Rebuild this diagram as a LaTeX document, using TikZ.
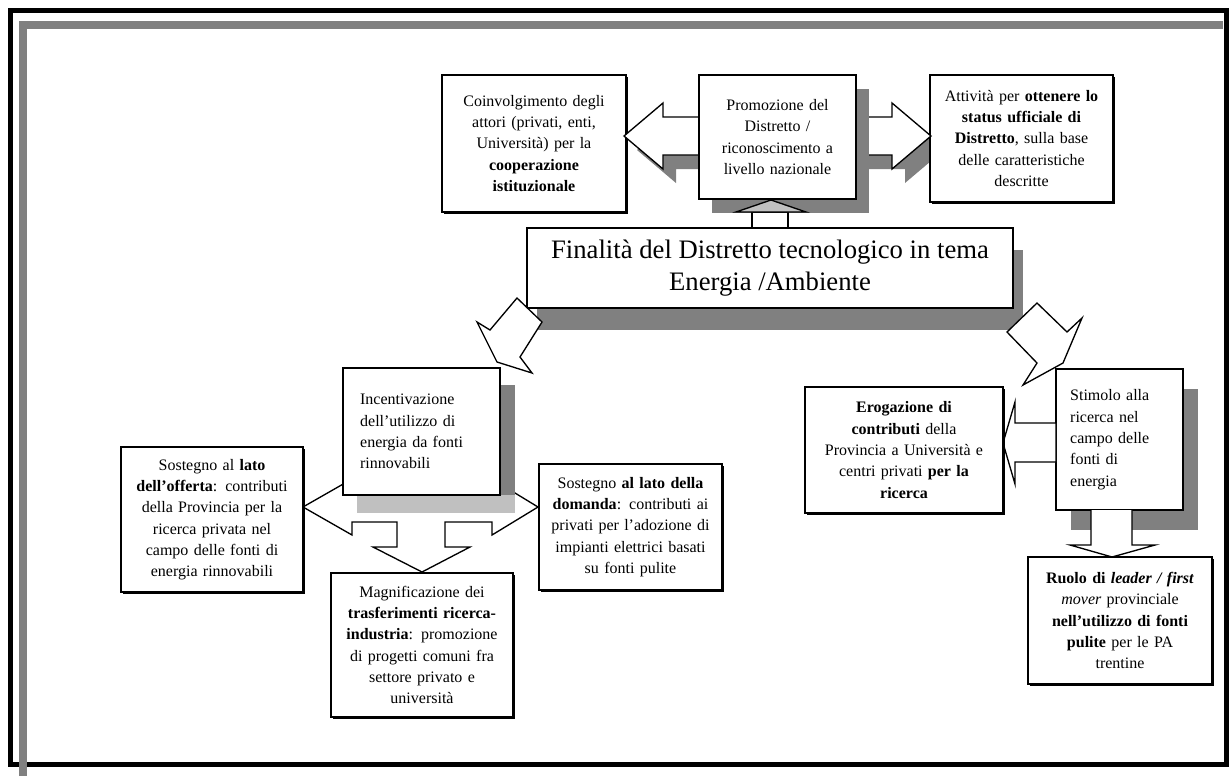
\documentclass[tikz,border=0pt]{standalone}
\usepackage{fontspec}
\setmainfont{Liberation Serif}
\usetikzlibrary{shadows}
\definecolor{dkgray}{HTML}{808080}
\definecolor{ltgray}{HTML}{C0C0C0}

\begin{document}
\begin{tikzpicture}[x=0.75pt,y=-0.75pt,
        txt/.style={font=\fontsize{12}{16}\selectfont},
        plainbox/.style={draw,line width=1.1pt,fill=white,align=center,inner sep=0pt,txt,
            drop shadow={shadow xshift=1.2pt,shadow yshift=-1.2pt,fill=black,opacity=1}},
        heavybox/.style={draw,line width=2.2pt,fill=white,inner sep=0pt,txt},
        gshadow/.style 2 args={drop shadow={shadow xshift=#1,shadow yshift=#2,fill=dkgray,opacity=1}},
        blockarrow/.style={draw,fill=white,line width=1pt,line join=miter}]
    \useasboundingbox (0,0) rectangle (1231,776);

    \draw[line width=3.75pt] (10.5,10) rectangle (1226,764);
    \draw[dkgray,line width=6pt] (22.5,776) -- (22.5,24.5) -- (1223,24.5);

    \fill[dkgray,shift={(13,14)}] (624,136) -- (663,103) -- (663,117) -- (892,117) -- (892,103)
        -- (931,136) -- (892,169) -- (892,155) -- (663,155) -- (663,169) -- cycle;

    \node (coop) at (534,143.5)[plainbox,minimum width=138pt,minimum height=102.75pt,text width=132pt]
        {Coinvolgimento degli\\attori (privati, enti,\\Università) per la\\\textbf{cooperazione}\\\textbf{istituzionale}};
    \node (status) at (1021.5,138.5)[plainbox,minimum width=137.25pt,minimum height=95.25pt,text width=132pt]
        {Attività per \textbf{ottenere lo}\\\textbf{status ufficiale di}\\\textbf{Distretto}, sulla base\\delle caratteristiche\\descritte};

    \draw[blockarrow] (624,136) -- (663,103) -- (663,117) -- (892,117) -- (892,103)
        -- (931,136) -- (892,169) -- (892,155) -- (663,155) -- (663,169) -- cycle;

    \node (promo) at (777.5,137)[heavybox,gshadow={9.75pt}{-10.5pt},align=center,
        minimum width=117.75pt,minimum height=93pt,text width=112pt]
        {Promozione del\\Distretto /\\riconoscimento a\\livello nazionale};

    \draw[blockarrow] (752,228) -- (752,212) -- (788,212) -- (788,228);
    \draw[blockarrow,fill=ltgray] (736,212) -- (771,200) -- (806,212) -- cycle;

    \node (main) at (770,268)[heavybox,gshadow={7.5pt}{-16.5pt},align=center,
        minimum width=364.5pt,minimum height=60pt,font=\fontsize{20}{24}\selectfont]
        {Finalità del Distretto tecnologico in tema\\Energia /Ambiente};

    \draw[blockarrow] (517,298) -- (542,322) -- (520,357) -- (532,373) -- (497,362)
        -- (477,322) -- (490,330) -- cycle;
    \draw[blockarrow] (1037,303) -- (1067,332) -- (1082,318) -- (1063,363) -- (1023,385)
        -- (1037,363) -- (1007,332) -- cycle;

    \draw[blockarrow] (303,507) -- (352,479) -- (352,492) -- (492,492) -- (492,479) -- (538,507)
        -- (492,535) -- (492,522) -- (445,522) -- (445,547) -- (470,547) -- (422,572)
        -- (373,547) -- (397,547) -- (397,522) -- (352,522) -- (352,535) -- cycle;

    \fill[dkgray] (500,385) rectangle (515,495);
    \fill[ltgray] (357,495) rectangle (515,513);
    \node (incent) at (421.5,431.5)[heavybox,align=left,minimum width=117.75pt,minimum height=95.25pt,text width=92pt]
        {Incentivazione\\dell'utilizzo di\\energia da fonti\\rinnovabili};

    \node (offerta) at (212,519.5)[plainbox,minimum width=136.5pt,minimum height=108.75pt,text width=132pt]
        {Sostegno al \textbf{lato}\\\textbf{dell'offerta}: contributi\\della Provincia per la\\ricerca privata nel\\campo delle fonti di\\energia rinnovabili};
    \node (domanda) at (630.5,527)[plainbox,minimum width=137.25pt,minimum height=94.5pt,text width=132pt]
        {Sostegno \textbf{al lato della}\\\textbf{domanda}: contributi ai\\privati per l'adozione di\\impianti elettrici basati\\su fonti pulite};
    \node (magnif) at (422,645)[plainbox,minimum width=136.5pt,minimum height=108pt,text width=132pt]
        {Magnificazione dei\\\textbf{trasferimenti ricerca-}\\\textbf{industria}: promozione\\di progetti comuni fra\\settore privato e\\università};

    \node (stimolo) at (1119.5,439.5)[heavybox,gshadow={11.25pt}{-15pt},align=left,
        minimum width=95.25pt,minimum height=105.75pt,text width=74pt]
        {Stimolo alla\\ricerca nel\\campo delle\\fonti di\\energia};

    \draw[blockarrow] (1003,443) -- (1015,402) -- (1015,423) -- (1056,423) -- (1056,462)
        -- (1015,462) -- (1015,484) -- cycle;
    \draw[blockarrow] (1091,510) -- (1091,545) -- (1070,545) -- (1112,557) -- (1155,545)
        -- (1132,545) -- (1132,510);

    \node (erog) at (904,450)[plainbox,minimum width=148.5pt,minimum height=94.5pt,text width=144pt]
        {\textbf{Erogazione di}\\\textbf{contributi} della\\Provincia a Università e\\centri privati \textbf{per la}\\\textbf{ricerca}};
    \node (ruolo) at (1120,620.5)[plainbox,minimum width=138pt,minimum height=95.25pt,text width=132pt]
        {\textbf{Ruolo di \textit{leader / first}}\\\textit{mover} provinciale\\\textbf{nell'utilizzo di fonti}\\\textbf{pulite} per le PA\\trentine};
\end{tikzpicture}
\end{document}
